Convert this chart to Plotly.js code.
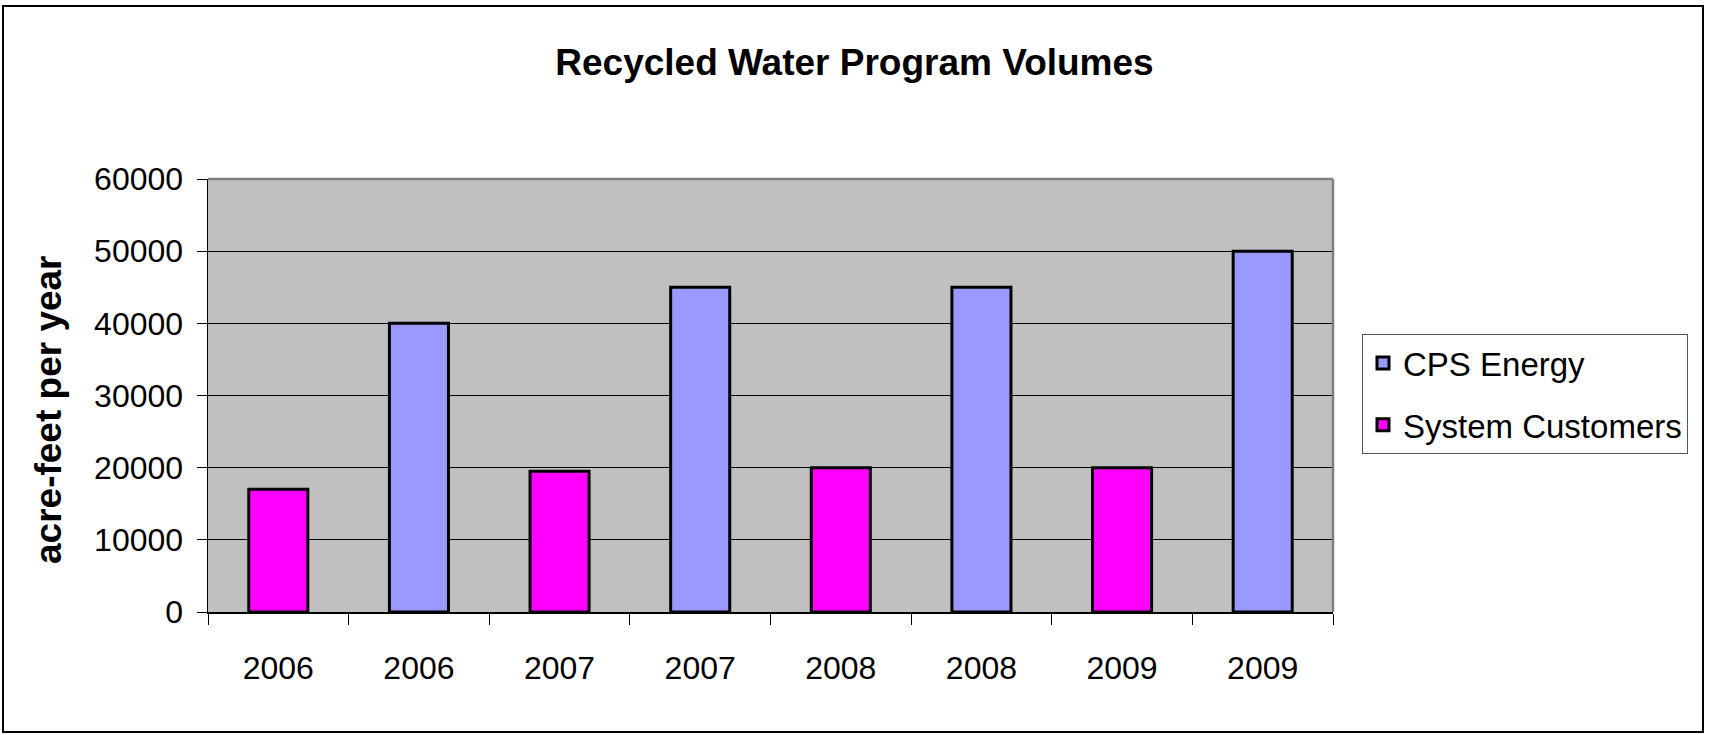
<!DOCTYPE html>
<html>
<head>
<meta charset="utf-8">
<script src="https://cdn.plot.ly/plotly-3.0.1.min.js"></script>
<style>
  body { margin: 0; background: #fff; }
  #chart { width: 1709px; height: 735px; }
</style>
</head>
<body>
<div id="chart"></div>
<script>
// Data
const tickLabels = ["2006", "2006", "2007", "2007", "2008", "2008", "2009", "2009"];
const cpsPositions = [1, 3, 5, 7];
const cpsValues = [40000, 45000, 45000, 50000];
const sysPositions = [0, 2, 4, 6];
const sysValues = [17000, 19500, 20000, 20000];
const yTicks = [0, 10000, 20000, 30000, 40000, 50000, 60000];

const tickPositions = tickLabels.map((_, i) => i);
const boundaries = tickLabels.map((_, i) => i - 0.5).concat([tickLabels.length - 0.5]);

const sans = "Liberation Sans, Arial, sans-serif";

const traces = [
  {
    type: "bar", name: "CPS Energy", x: cpsPositions, y: cpsValues, width: 0.42,
    marker: { color: "#9999FF", line: { color: "#000", width: 3 } },
    legendgroup: "a", hoverinfo: "y"
  },
  {
    type: "bar", name: "System Customers", x: sysPositions, y: sysValues, width: 0.42,
    marker: { color: "#FF00FF", line: { color: "#000", width: 3 } },
    legendgroup: "b", hoverinfo: "y"
  },
  { type: "scatter", x: [0], y: [0], xaxis: "x2", showlegend: false, hoverinfo: "skip",
    mode: "markers", marker: { opacity: 0 } }
];

const layout = {
  width: 1709, height: 735,
  margin: { l: 208, r: 376, t: 179, b: 123 },
  paper_bgcolor: "#ffffff",
  plot_bgcolor: "#C0C0C0",
  barmode: "overlay",
  showlegend: true,
  title: {
    text: "<b>Recycled Water Program Volumes</b>",
    font: { family: sans, size: 37, color: "#000" },
    x: 0.5, xref: "container", xanchor: "center",
    y: 1 - 62 / 735, yref: "container", yanchor: "middle"
  },
  xaxis: {
    range: [-0.5, 7.5], fixedrange: true,
    tickvals: boundaries, ticktext: boundaries.map(() => ""),
    ticks: "outside", ticklen: 11, tickwidth: 1, tickcolor: "#000",
    showgrid: false, zeroline: false,
    showline: true, linecolor: "#000", linewidth: 1.5
  },
  xaxis2: {
    overlaying: "x", range: [-0.5, 7.5], fixedrange: true,
    tickvals: tickPositions, ticktext: tickLabels,
    ticks: "", showgrid: false, zeroline: false, showline: false,
    ticklabelstandoff: 34,
    tickfont: { family: sans, size: 32, color: "#000" },
    side: "bottom", anchor: "y"
  },
  yaxis: {
    range: [0, 60000], fixedrange: true,
    tickvals: yTicks, ticktext: yTicks.map(String),
    ticks: "outside", ticklen: 10, tickwidth: 1, tickcolor: "#000",
    ticklabelstandoff: 7,
    tickfont: { family: sans, size: 32, color: "#000" },
    showgrid: true, gridcolor: "#000", gridwidth: 1,
    zeroline: false,
    showline: true, linecolor: "#000", linewidth: 1.5
  },
  legend: {
    x: (1362 - 208) / 1125, y: (612 - 334) / 433,
    xanchor: "left", yanchor: "top",
    bgcolor: "#fff", bordercolor: "#555", borderwidth: 1,
    font: { family: sans, size: 33, color: "#000" },
    traceorder: "grouped", tracegroupgap: 16
  },
  annotations: [
    {
      text: "<b>acre-feet per year</b>", textangle: -90, showarrow: false,
      xref: "paper", yref: "paper",
      x: (48 - 208) / 1125, y: (612 - 410) / 433,
      xanchor: "center", yanchor: "middle",
      font: { family: sans, size: 37, color: "#000" }
    }
  ],
  shapes: [
    { type: "line", xref: "paper", yref: "paper", x0: 0, x1: 1, y0: 1, y1: 1,
      line: { color: "#808080", width: 2.5 }, layer: "above" },
    { type: "line", xref: "paper", yref: "paper", x0: 1, x1: 1, y0: 0, y1: 1,
      line: { color: "#808080", width: 2.5 }, layer: "above" },
    { type: "rect", xref: "paper", yref: "paper",
      x0: (3 - 208) / 1125, x1: (1703 - 208) / 1125,
      y0: (612 - 732) / 433, y1: (612 - 6) / 433,
      line: { color: "#000", width: 2 }, fillcolor: "rgba(0,0,0,0)", layer: "above" }
  ]
};

Plotly.newPlot("chart", traces, layout, { displayModeBar: false, staticPlot: true });
</script>
</body>
</html>
